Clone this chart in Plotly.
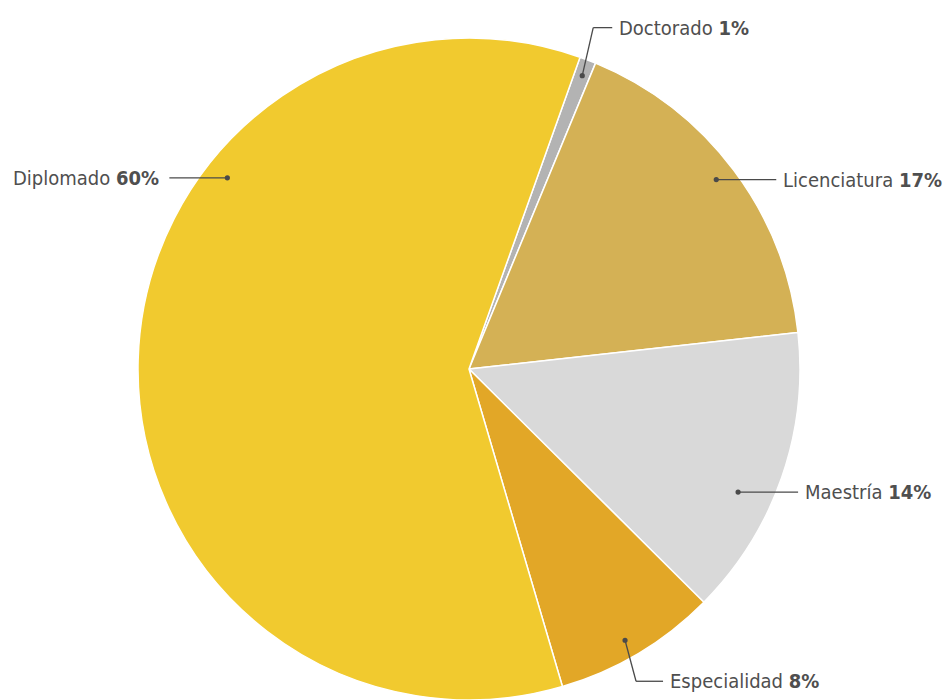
import math
import plotly.graph_objects as go

# ---- data ----
categories = ["Doctorado", "Licenciatura", "Maestría", "Especialidad", "Diplomado"]
values = [0.8, 17.0, 14.2, 8.0, 60.0]
pct_labels = ["1%", "17%", "14%", "8%", "60%"]
colors = ["#b3b3b3", "#d4b155", "#d9d9d9", "#e2a727", "#f1ca2f"]

# ---- layout constants (pixel space) ----
W, H = 944, 700
CX, CY, R = 469, 370, 332
START_ANGLE = 19.6  # degrees clockwise from 12 o'clock
FONT = "DejaVu Sans Condensed, Liberation Sans Narrow, Arial Narrow, sans-serif"
TXT = "#4f4f4f"
LINE = "#4a4a4a"

# label leader config: dot radius fraction, optional angle override, leader path offsets (px), text side
leader_cfg = {
    "Doctorado":    dict(rf=0.95, ang=None, path=[(11, -48), (30, -48)], side="right"),
    "Licenciatura": dict(rf=0.94, ang=52.4, path=[(60, 0)], side="right"),
    "Maestría":     dict(rf=0.89, ang=114.4, path=[(60, 0)], side="right"),
    "Especialidad": dict(rf=0.94, ang=150.0, path=[(11, 41), (38, 41)], side="right"),
    "Diplomado":    dict(rf=0.93, ang=308.5, path=[(-58, 0)], side="left"),
}


def px2paper(x, y):
    return x / W, 1 - y / H


fig = go.Figure()
dx0, dy0 = px2paper(CX - R, CY + R)
dx1, dy1 = px2paper(CX + R, CY - R)
fig.add_trace(go.Pie(
    labels=categories, values=values, sort=False, direction="clockwise",
    rotation=START_ANGLE, textinfo="none", hoverinfo="label+percent",
    marker=dict(colors=colors, line=dict(color="white", width=1.5)),
    domain=dict(x=[dx0, dx1], y=[max(dy0, 0), dy1]),
    showlegend=False,
))

total = sum(values)
acc = 0.0
shapes, annotations = [], []
for name, v, p in zip(categories, values, pct_labels):
    a0 = START_ANGLE + acc / total * 360
    acc += v
    a1 = START_ANGLE + acc / total * 360
    cfg = leader_cfg[name]
    ang = cfg["ang"] if cfg["ang"] is not None else (a0 + a1) / 2
    rad = math.radians(ang)
    dx = CX + R * cfg["rf"] * math.sin(rad)
    dy = CY - R * cfg["rf"] * math.cos(rad)
    pts = [(dx, dy)] + [(dx + ox, dy + oy) for ox, oy in cfg["path"]]
    for (x0, y0), (x1, y1) in zip(pts[:-1], pts[1:]):
        px0, py0 = px2paper(x0, y0)
        px1, py1 = px2paper(x1, y1)
        shapes.append(dict(type="line", xref="paper", yref="paper", x0=px0, y0=py0,
                           x1=px1, y1=py1, line=dict(color=LINE, width=1.3), layer="above"))
    rr = 2.6
    ax0, ay0 = px2paper(dx - rr, dy + rr)
    ax1, ay1 = px2paper(dx + rr, dy - rr)
    shapes.append(dict(type="circle", xref="paper", yref="paper",
                       x0=ax0, x1=ax1, y0=ay0, y1=ay1,
                       fillcolor=LINE, line=dict(width=0), layer="above"))
    ex, ey = pts[-1]
    if cfg["side"] == "right":
        tx, anchor = ex + 5, "left"
    else:
        tx, anchor = ex - 8, "right"
    tpx, tpy = px2paper(tx, ey)
    annotations.append(dict(
        x=tpx, y=tpy, xref="paper", yref="paper", xanchor=anchor, yanchor="middle",
        text=f"{name} <b>{p}</b>", showarrow=False,
        font=dict(family=FONT, size=20, color=TXT),
    ))

fig.update_layout(
    width=W, height=H, margin=dict(l=0, r=0, t=0, b=0),
    paper_bgcolor="white", plot_bgcolor="white",
    shapes=shapes, annotations=annotations,
)
fig.write_html(
    "out.html",
    config={"displayModeBar": False},
    post_script="document.body.style.margin='0';document.body.style.overflow='hidden';",
)
